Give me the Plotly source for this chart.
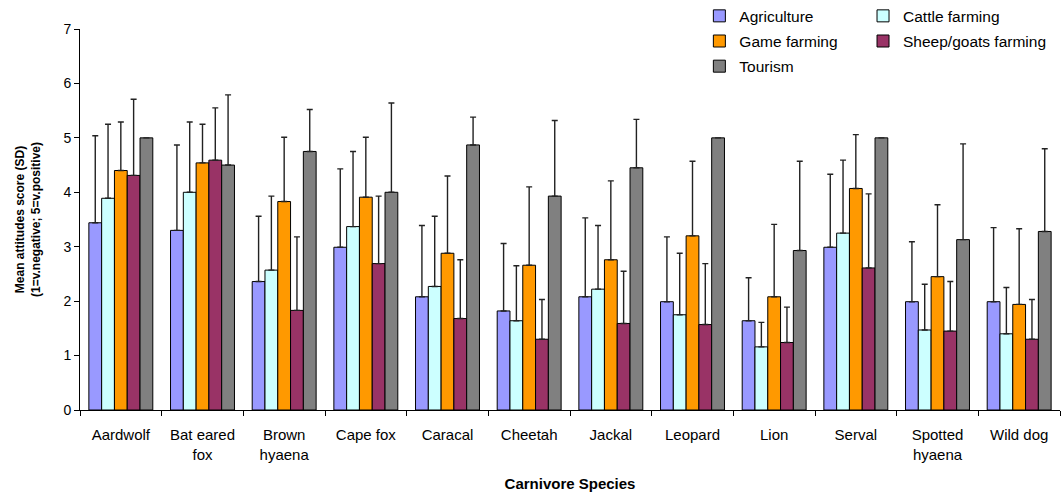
import plotly.graph_objects as go

species = ["Aardwolf", "Bat eared<br>fox", "Brown<br>hyaena", "Cape fox", "Caracal", "Cheetah",
           "Jackal", "Leopard", "Lion", "Serval", "Spotted<br>hyaena", "Wild dog"]

agriculture = [3.44, 3.30, 2.36, 2.99, 2.08, 1.82, 2.08, 1.99, 1.64, 2.99, 1.99, 1.99]
agriculture_sd = [1.60, 1.57, 1.20, 1.44, 1.31, 1.24, 1.45, 1.19, 0.79, 1.34, 1.10, 1.36]

cattle = [3.89, 4.00, 2.57, 3.37, 2.27, 1.64, 2.22, 1.75, 1.16, 3.25, 1.47, 1.40]
cattle_sd = [1.36, 1.29, 1.36, 1.38, 1.29, 1.01, 1.17, 1.13, 0.45, 1.34, 0.84, 0.85]

game = [4.40, 4.54, 3.83, 3.91, 2.88, 2.66, 2.76, 3.20, 2.08, 4.07, 2.45, 1.94]
game_sd = [0.89, 0.71, 1.18, 1.10, 1.42, 1.44, 1.45, 1.37, 1.33, 0.99, 1.32, 1.39]

sheep = [4.31, 4.59, 1.83, 2.69, 1.68, 1.30, 1.59, 1.57, 1.24, 2.61, 1.45, 1.30]
sheep_sd = [1.40, 0.96, 1.35, 1.24, 1.08, 0.73, 0.96, 1.12, 0.65, 1.36, 0.91, 0.73]

tourism = [5.00, 4.50, 4.75, 4.00, 4.87, 3.93, 4.45, 5.00, 2.93, 5.00, 3.13, 3.28]
tourism_sd = [0.00, 1.29, 0.77, 1.64, 0.51, 1.39, 0.89, 0.00, 1.64, 0.00, 1.76, 1.52]

series = [
    ("Agriculture", agriculture, agriculture_sd, "#9999FF", "legend"),
    ("Cattle farming", cattle, cattle_sd, "#CCFFFF", "legend2"),
    ("Game farming", game, game_sd, "#FF9900", "legend"),
    ("Sheep/goats farming", sheep, sheep_sd, "#993366", "legend2"),
    ("Tourism", tourism, tourism_sd, "#808080", "legend"),
]

FONT = "Arial, Liberation Sans, sans-serif"

fig = go.Figure()
for name, vals, sd, color, leg in series:
    fig.add_trace(go.Bar(
        name=name, x=species, y=vals,
        marker=dict(color=color, line=dict(color="black", width=1)),
        error_y=dict(type="data", symmetric=False, array=sd, arrayminus=[0] * len(sd),
                     color="#222222", thickness=1.4, width=3),
        legend=leg, legendgroup=name,
    ))

legend_common = dict(
    font=dict(family=FONT, size=15.5, color="black"),
    bgcolor="rgba(0,0,0,0)", borderwidth=0, itemwidth=30,
    yanchor="top", xanchor="left", tracegroupgap=2,
)

fig.update_layout(
    width=1061, height=497,
    margin=dict(l=80, r=1, t=29, b=87, autoexpand=False),
    plot_bgcolor="white", paper_bgcolor="white",
    barmode="group", bargap=0.217, bargroupgap=0,
    font=dict(family=FONT, size=14, color="black"),
    legend=dict(x=0.632, y=1.078, **legend_common),
    legend2=dict(x=0.799, y=1.078, **legend_common),
    xaxis=dict(
        showline=True, linecolor="black", linewidth=1,
        ticks="outside", ticklen=5, tickcolor="black", tickson="boundaries",
        tickfont=dict(family=FONT, size=15, color="black"),
        ticklabelstandoff=11,
        title=dict(text="<b>Carnivore Species</b>", font=dict(family=FONT, size=15), standoff=16),
        showgrid=False,
    ),
    yaxis=dict(
        range=[0, 7], dtick=1, showline=True, linecolor="black", linewidth=1,
        ticks="outside", ticklen=5, tickcolor="black",
        tickfont=dict(family=FONT, size=14, color="black"),
        title=dict(text="<b>Mean attitudes score (SD)<br>(1=v.negative; 5=v.positive)</b>",
                   font=dict(family=FONT, size=12), standoff=20),
        showgrid=False, zeroline=False,
    ),
)

fig.write_html("out.html", config={"displayModeBar": False},
               post_script="document.body.style.margin='0px';")
